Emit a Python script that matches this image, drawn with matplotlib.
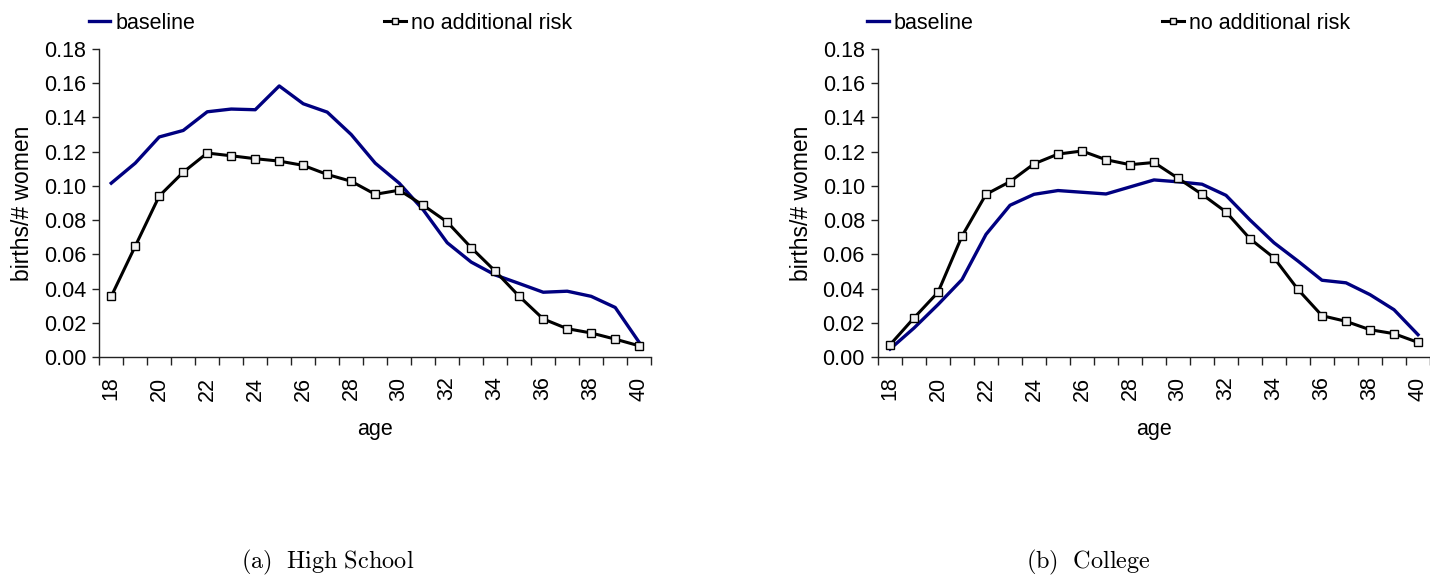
import matplotlib
matplotlib.use("Agg")
import matplotlib.pyplot as plt
import numpy as np

ages = list(range(18, 41))

hs_baseline = [0.1016, 0.1133, 0.1286, 0.1324, 0.1433, 0.1449, 0.1445, 0.1584, 0.1480,
               0.1431, 0.1300, 0.1133, 0.1016, 0.0860, 0.0668, 0.0555, 0.0480, 0.0430,
               0.0379, 0.0385, 0.0355, 0.0290, 0.0086]
hs_norisk = [0.0355, 0.0648, 0.0941, 0.1080, 0.1192, 0.1176, 0.1159, 0.1145, 0.1120,
             0.1067, 0.1027, 0.0951, 0.0975, 0.0887, 0.0789, 0.0639, 0.0502, 0.0355,
             0.0223, 0.0166, 0.0141, 0.0105, 0.0066]

col_baseline = [0.0047, 0.0170, 0.0307, 0.0453, 0.0717, 0.0887, 0.0951, 0.0973, 0.0963,
                0.0953, 0.0994, 0.1035, 0.1024, 0.1010, 0.0945, 0.0801, 0.0668, 0.0561,
                0.0449, 0.0434, 0.0365, 0.0277, 0.0131]
col_norisk = [0.0072, 0.0229, 0.0379, 0.0707, 0.0951, 0.1025, 0.1129, 0.1186, 0.1204,
              0.1153, 0.1124, 0.1137, 0.1045, 0.0951, 0.0848, 0.0691, 0.0580, 0.0395,
              0.0242, 0.0209, 0.0160, 0.0137, 0.0086]

series_labels = ["baseline", "no additional risk"]
captions = [r"$\mathrm{(a)\ \ High\ School}$", r"$\mathrm{(b)\ \ College}$"]
y_ticks = [0.00, 0.02, 0.04, 0.06, 0.08, 0.10, 0.12, 0.14, 0.16, 0.18]

plt.rcParams["font.family"] = ["Liberation Sans", "DejaVu Sans"]
plt.rcParams["mathtext.fontset"] = "cm"

FS = 15.5

fig = plt.figure(figsize=(14.3, 5.76), dpi=100)

panels = [
    (fig.add_axes([0.0694, 0.380, 0.386, 0.535]), hs_baseline, hs_norisk,
     0.0622, 0.229),
    (fig.add_axes([0.6140, 0.380, 0.386, 0.535]), col_baseline, col_norisk,
     0.6063, 0.761),
]

x = np.arange(len(ages))
for i, (ax, base, norisk, leg_x, cap_x) in enumerate(panels):
    l1, = ax.plot(x, base, color="#000080", lw=2.4, solid_joinstyle="round")
    l2, = ax.plot(x, norisk, color="black", lw=2.2, marker="s", ms=5.5,
                  mfc="#f2f2f2", mec="black", mew=1.0)
    ax.set_xlim(-0.5, len(ages) - 0.5)
    ax.set_ylim(0, 0.18)
    ax.set_yticks(y_ticks)
    ax.set_yticklabels([f"{v:.2f}" for v in y_ticks], fontsize=FS)
    # tick marks sit on category boundaries, labels on every second category
    ax.set_xticks(np.arange(-0.5, len(ages), 1.0))
    ax.set_xticklabels([])
    ax.set_xticks(x[::2], minor=True)
    ax.set_xticklabels([str(a) for a in ages[::2]], minor=True, rotation=90,
                       fontsize=FS)
    ax.tick_params(axis="x", which="major", length=6, width=1, direction="out",
                   color="#222222")
    ax.tick_params(axis="x", which="minor", length=0, pad=14)
    ax.tick_params(axis="y", length=5, width=1, direction="out", color="#222222",
                   pad=4.5)
    for s in ["top", "right"]:
        ax.spines[s].set_visible(False)
    for s in ["left", "bottom"]:
        ax.spines[s].set_color("#222222")
        ax.spines[s].set_linewidth(1.0)
    ax.set_xlabel("age", fontsize=FS, labelpad=13)
    ax.set_ylabel("births/# women", fontsize=16.5, labelpad=7)
    fig.legend([l1, l2], series_labels, loc="center left",
               bbox_to_anchor=(leg_x, 0.960), ncol=2, frameon=False, fontsize=FS,
               handlelength=1.0, handletextpad=0.25, columnspacing=8.75,
               borderaxespad=0, borderpad=0, markerscale=0.75)
    fig.text(cap_x, 0.023, captions[i], fontsize=17.5, ha="center", va="center")

fig.savefig("out.png", dpi=100)
